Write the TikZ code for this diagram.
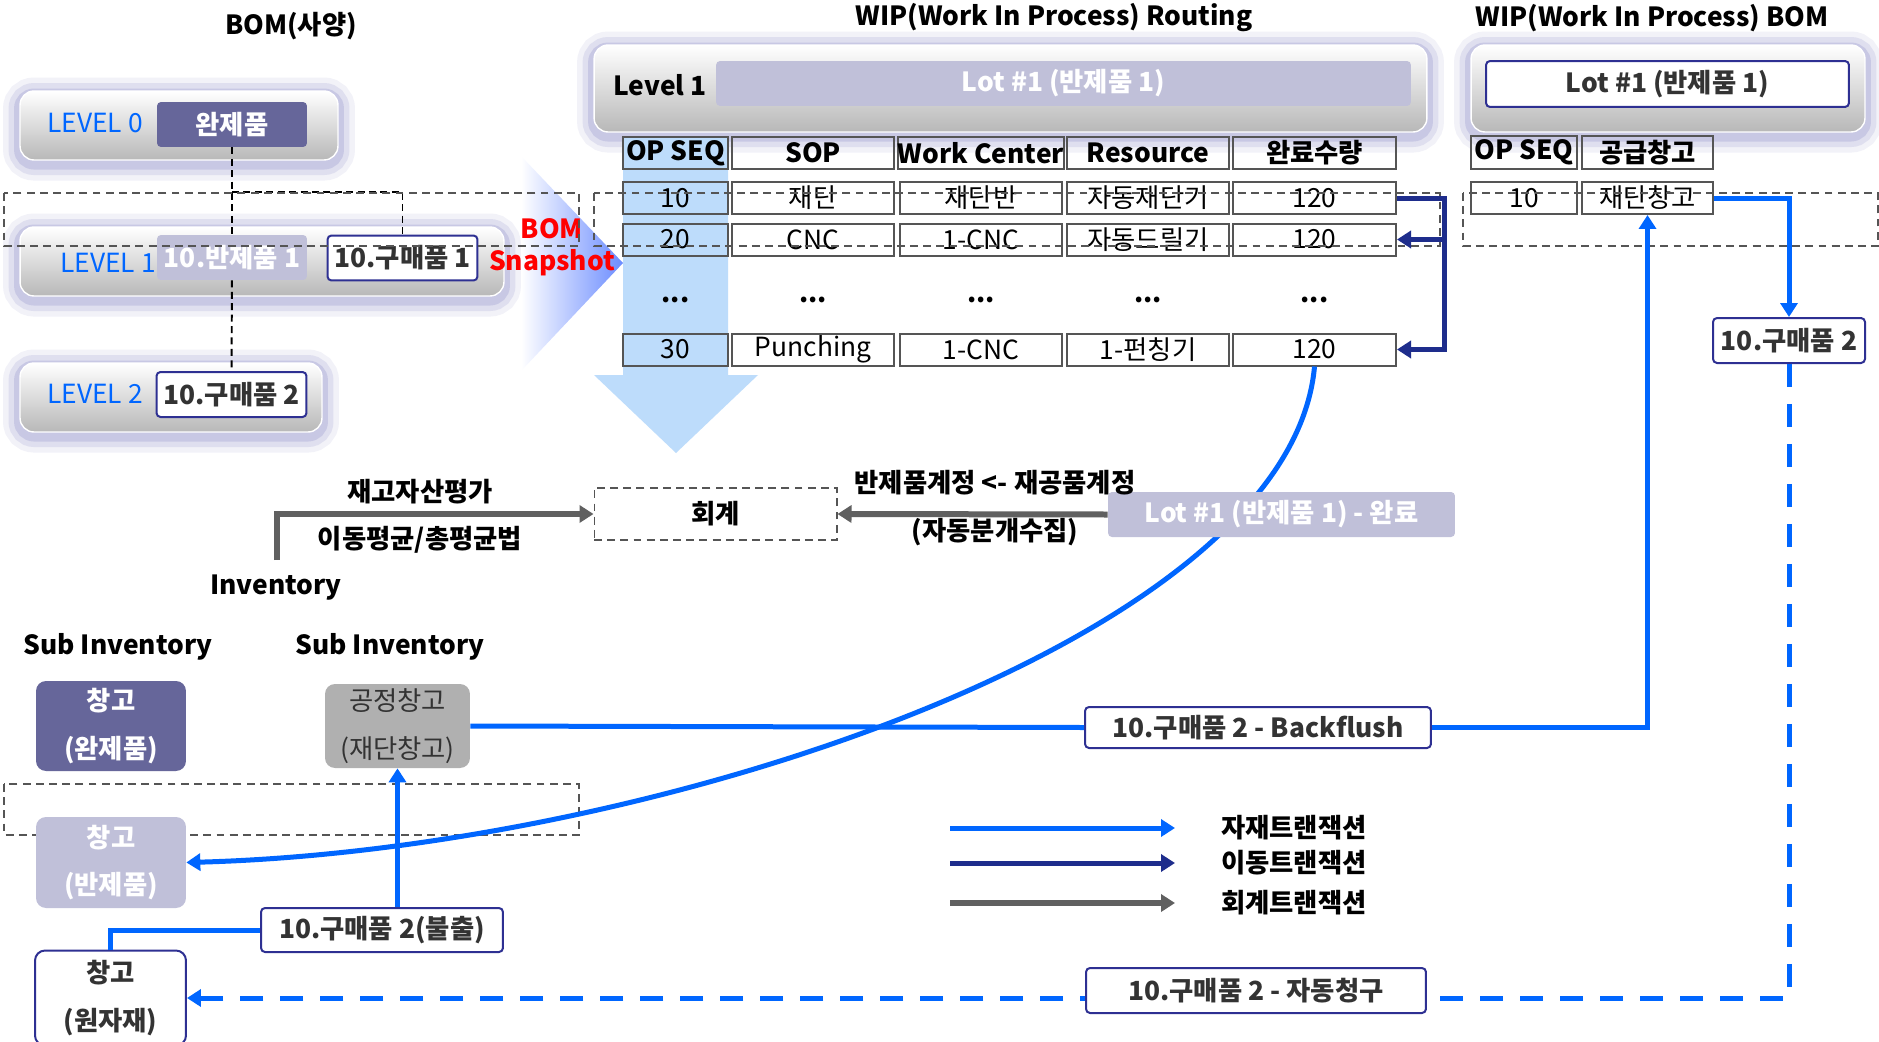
\documentclass[tikz,border=0pt]{standalone}
\usepackage{fontspec}
\setmainfont{Noto Sans CJK KR}
\usetikzlibrary{arrows.meta}
\definecolor{matblue}{HTML}{0066FF}
\definecolor{movnavy}{HTML}{1E2D8C}
\definecolor{accgray}{HTML}{606060}
\definecolor{slate}{HTML}{66669A}
\definecolor{lavender}{HTML}{C0C0D9}
\definecolor{boxgray}{HTML}{B0B0B0}
\definecolor{bandblue}{HTML}{BDDCFB}
\definecolor{snapblue}{HTML}{6B8CFF}
\definecolor{glow}{HTML}{8080C4}
\definecolor{tabgray}{HTML}{555555}
\definecolor{edgenavy}{HTML}{2E3092}
\newcommand\fsn{\fontsize{15}{18}\selectfont}
\newcommand\fsb{\fontsize{15}{18}\selectfont\bfseries}
\newcommand\fsw{\fontsize{15}{27}\selectfont\bfseries}
\begin{document}
\begin{tikzpicture}[x=0.02cm,y=-0.02cm,every node/.style={font=\fsn},
  >={Triangle[length=0.28cm,width=0.34cm]},
  lvbox/.style={rounded corners=0.28cm,draw=white,line width=0.8pt,top color=white,bottom color=black!28,inner sep=0pt,
    preaction={draw=glow,line width=0.68cm,opacity=0.1,transform canvas={yshift=-2pt}},
    preaction={draw=glow,line width=0.46cm,opacity=0.16,transform canvas={yshift=-2pt}},
    preaction={draw=glow,line width=0.24cm,opacity=0.24,transform canvas={yshift=-2pt}}},
  lvtext/.style={text=matblue},
  item/.style={rounded corners=0.08cm,inner sep=0pt,minimum width=3cm,minimum height=0.9cm,font=\fsb},
  fin/.style={item,fill=slate,text=white},
  semi/.style={item,fill=lavender,text=white},
  pur/.style={item,fill=white,draw=edgenavy,line width=0.04cm,text=black!80},
  cell/.style={draw=tabgray,line width=0.04cm,inner sep=0pt,minimum height=0.64cm},
  frame/.style={draw=tabgray,line width=0.6pt,dash pattern=on 4.5pt off 3pt},
  tree/.style={draw=black,line width=1.1pt,dash pattern=on 4pt off 2.5pt},
  mat/.style={draw=matblue,line width=0.1cm},
  mov/.style={draw=movnavy,line width=0.1cm},
  acc/.style={draw=accgray,line width=0.12cm},
  wh/.style={rounded corners=0.2cm,inner sep=0pt,minimum width=3cm,align=center,font=\fsw}]

\fill[white] (0,0) rectangle (1879,1041);
\useasboundingbox (0,0) rectangle (1879,1041);

% titles
\node[font=\fsb] (tbom) at (291,26) {BOM(사양)};
\node[font=\fsb] (trout) at (1054,18) {WIP(Work In Process) Routing};
\node[font=\fsb] (twbom) at (1652,18) {WIP(Work In Process) BOM};

% BOM levels
\node[lvbox,minimum width=6.36cm,minimum height=1.38cm] (lv0) at (179,125.5) {};
\node[lvbox,minimum width=9.68cm,minimum height=1.38cm] (lv1) at (262,261.5) {};
\node[lvbox,minimum width=6.04cm,minimum height=1.38cm] (lv2) at (171,397.5) {};
\node[lvtext] (l0) at (95,123) {LEVEL 0};
\node[lvtext] (l1) at (108,263) {LEVEL 1};
\node[lvtext] (l2) at (95,394) {LEVEL 2};
\node[fin] (fin) at (232,124.5) {완제품};
\node[semi] (semi) at (232,257.5) {10.반제품 1};
\node[pur] (pur1) at (402.5,258) {10.구매품 1};
\node[pur] (pur2) at (231.5,394.5) {10.구매품 2};
\draw[tree] (fin) -- (semi);
\draw[tree] (fin.south |- 0,192) -| (pur1);
\draw[tree] (semi) -- (pur2);

% snapshot
\shade[left color=white,right color=snapblue] (521,156) -- (623,263) -- (521,371) -- cycle;
\node[font=\fsb,text=red,align=center] (snap) at (552,247.5) {BOM\\Snapshot};

% routing
\node[lvbox,minimum width=16.66cm,minimum height=1.74cm] (lvr) at (1010.5,88.5) {};
\node[font=\fsb] (lvrt) at (660,85) {Level 1};
\node[item,fill=lavender,text=white,minimum width=13.9cm] (lotr) at (1063.5,83.5) {Lot \#1 (반제품 1)};
\fill[bandblue] (623,137) -- (728,137) -- (728,375) -- (758,375) -- (676,453) -- (594,375) -- (623,375) -- cycle;
\foreach \x/\w/\t [count=\i] in {675.5/2.1/OP SEQ,813/3.24/SOP,981/3.24/Work Center,1148/3.24/Resource,1314.5/3.26/완료수량}
  \node[cell,font=\fsb,minimum width=\w cm] (h\i) at (\x,153) {\t};
\foreach \r/\y/\vals in {a/198/{10,재단,재단반,자동재단기,120},b/239.5/{20,CNC,1-CNC,자동드릴기,120},c/349.5/{30,Punching,1-CNC,1-펀칭기,120}}
  \foreach \v [count=\i] in \vals {
    \pgfmathsetmacro\w{{2.1,3.24,3.24,3.24,3.26}[\i-1]}
    \node[cell,minimum width=\w cm] (\r\i) at (h\i |- 0,\y) {\v};
  }
\foreach \i in {1,...,5} \node[font=\fsb] (d\i) at (h\i |- 0,300) {...};

% WIP BOM
\node[lvbox,minimum width=7.88cm,minimum height=1.74cm] (lvb) at (1668,88.5) {};
\node[pur,minimum width=7.26cm,minimum height=0.92cm] (lotb) at (1667.5,84) {Lot \#1 (반제품 1)};
\node[cell,font=\fsb,minimum width=2.12cm,minimum height=0.66cm] (bh1) at (1524,152.5) {OP SEQ};
\node[cell,font=\fsb,minimum width=2.62cm,minimum height=0.66cm] (bh2) at (1647.5,152.5) {공급창고};
\node[cell,minimum width=2.12cm] (bc1) at (1524,198) {10};
\node[cell,minimum width=2.62cm] (bc2) at (1647.5,198) {재단창고};
\node[pur,minimum width=3.04cm] (pur2r) at (1789,340.5) {10.구매품 2};

% dashed frames
\draw[frame] (4,193) rectangle (579,246);
\draw[frame] (594,193) rectangle (1440,246);
\draw[frame] (1463,193) rectangle (1878,246);
\draw[frame] (4,784) rectangle (579,835);

% sub inventories
\node[font=\fsb] (sub1) at (118,647) {Sub Inventory};
\node[font=\fsb] (sub2) at (390,647) {Sub Inventory};
\node[wh,fill=slate,text=white,minimum height=1.8cm] (whfin) at (111,726) {창고\\(완제품)};
\node[wh,fill=boxgray,text=black!80,minimum width=2.9cm,minimum height=1.68cm,font=\fontsize{15}{27}\selectfont] (whwip) at (397.5,726) {공정창고\\(재단창고)};
\node[wh,fill=lavender,text=white,minimum height=1.82cm] (whsemi) at (111,862.5) {창고\\(반제품)};
\node[wh,fill=white,draw=edgenavy,line width=0.04cm,text=black!80,minimum width=3.02cm,minimum height=1.9cm] (whraw) at (110.5,998) {창고\\(원자재)};
\node[pur,minimum width=4.84cm,minimum height=0.88cm] (issue) at (382,930) {10.구매품 2(불출)};

% material / move transactions
\coordinate (nv) at (1444,198);
\draw[mov,->] (a5.east) -- (nv) |- (c5.east);
\draw[mov,->] (nv |- b5.east) -- (b5.east);
\draw[mat,->] (bc2.east) -| (pur2r.north);
\draw[mat,->] (c5.south) .. controls (1290,640) and (650,850) .. (whsemi.east);
\draw[mat,->] (issue.north -| whwip.south) -- (whwip.south);
\draw[mat] (issue.west) -| (whraw.north);
\node[pur,minimum width=6.92cm,minimum height=0.82cm] (bf) at (1258,727.5) {10.구매품 2 - Backflush};
\draw[mat] (whwip.east) -- (bf.west);
\draw[mat,->] (bf.east) -| (bc2.south);
\draw[mat,dash pattern=on 0.46cm off 0.34cm,->] (pur2r.south) |- (whraw.east);
\node[pur,minimum width=6.8cm] (claim) at (1256,990.5) {10.구매품 2 - 자동청구};

% accounting
\node[frame,minimum width=4.86cm,minimum height=1.04cm,font=\fsb] (acct) at (715.5,514) {회계};
\node[item,fill=lavender,text=white,minimum width=6.94cm] (done) at (1281.5,514.5) {Lot \#1 (반제품 1) - 완료};
\node[font=\fsb] (accl1) at (995,483) {반제품계정 <- 재공품계정};
\node[font=\fsb] (accl2) at (995,532) {(자동분개수집)};
\node[font=\fsb] (invl1) at (420,492) {재고자산평가};
\node[font=\fsb] (invl2) at (420,540) {이동평균/총평균법};
\node[font=\fsb] (inv) at (276,588) {Inventory};
\coordinate (invtop) at (277,560);
\draw[acc,->] (done.west) -- (acct.east);
\draw[acc,->] (invtop) |- (acct.west);

% legend
\foreach \y/\s/\t [count=\i] in {828/mat/자재트랜잭션,863/mov/이동트랜잭션,903/acc/회계트랜잭션} {
  \coordinate (k\i) at (950,\y);
  \node[font=\fsb,anchor=west] (kt\i) at (1215,\y) {\t};
  \draw[\s,->] (k\i) -- ++(225,0);
}
\end{tikzpicture}
\end{document}
